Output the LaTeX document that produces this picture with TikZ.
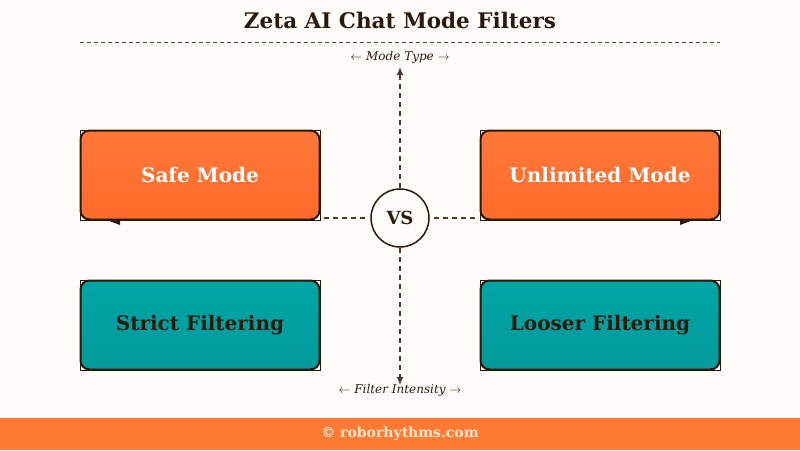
\documentclass[tikz,border=0pt]{standalone}
\usepackage{fontspec}
\setmainfont{DejaVu Serif}
\usetikzlibrary{arrows.meta}
\definecolor{pagebg}{HTML}{FFFCFA}
\definecolor{inkdark}{HTML}{2B1A0C}
\definecolor{modeorange}{HTML}{FF6A2A}
\definecolor{modeorangelt}{HTML}{FF7838}
\definecolor{filterteal}{HTML}{00A6A6}
\definecolor{filtertealdk}{HTML}{03999B}
\definecolor{footorange}{HTML}{FF7A32}
\definecolor{foottext}{HTML}{FFE9D2}
\begin{document}
\begin{tikzpicture}
[
x=1pt, y=-1pt,
Frame/.style={draw=inkdark, line width=0.8pt, minimum width=240pt, minimum height=90pt},
ModeBox/.style={rectangle, rounded corners=9pt, draw=inkdark, line width=2pt, top color=modeorangelt, bottom color=modeorange, minimum width=239pt, minimum height=89pt, text=white, font=\fontsize{20}{24}\selectfont\bfseries},
FilterBox/.style={rectangle, rounded corners=9pt, draw=inkdark, line width=2pt, top color=filterteal, bottom color=filtertealdk, minimum width=239pt, minimum height=89pt, text=inkdark, font=\fontsize{20}{24}\selectfont\bfseries},
VsCircle/.style={circle, draw=inkdark, line width=1.5pt, fill=pagebg, minimum size=58pt, inner sep=0pt, text=inkdark, font=\fontsize{18}{21}\selectfont\bfseries},
AxisLabel/.style={text=inkdark, font=\fontsize{12}{14}\selectfont\itshape},
DashAxis/.style={draw=inkdark!85, line width=1.5pt, dash pattern=on 5pt off 4pt},
Tail/.style={fill=inkdark, draw=none},
]

% page and footer
\fill[pagebg] (0,0) rectangle (800,450);
\fill[footorange] (0,418) rectangle (800,450);
\node[text=foottext, font=\fontsize{14}{16}\selectfont\bfseries] (footer) at (400,434) {© roborhythms.com};

% title
\node[text=inkdark, font=\fontsize{21.5}{25}\selectfont\bfseries] (title) at (400,20) {Zeta AI Chat Mode Filters};
\draw[draw=inkdark!80, line width=1pt, dash pattern=on 4pt off 3pt] (80,42) -- (720,42);

% boxes
\node[Frame] at (200,175) {};
\node[Frame] at (600,175) {};
\node[Frame] at (200,325) {};
\node[Frame] at (600,325) {};
\fill[Tail] (104,219) -- (120,219) -- (120,225) -- cycle;
\fill[Tail] (680,219) -- (696,219) -- (680,225) -- cycle;
\node[ModeBox] (safe) at (200,175) {Safe Mode};
\node[ModeBox] (unlim) at (600,175) {Unlimited Mode};
\node[FilterBox] (strict) at (200,325) {Strict Filtering};
\node[FilterBox] (loose) at (600,325) {Looser Filtering};

% axes
\node[VsCircle] (vs) at (400,218) {VS};
\coordinate (top) at (400,67);
\coordinate (bottom) at (400,385);
\coordinate (left) at ([xshift=3pt]safe.south east |- vs.west);
\coordinate (right) at ([xshift=-3pt]unlim.south west |- vs.east);
\draw[DashAxis, -{Latex[length=8pt,width=7pt]}] (vs.north) -- (top);
\draw[DashAxis, -{Latex[length=8pt,width=7pt]}] (vs.south) -- (bottom);
\draw[DashAxis] (left) -- ([xshift=-4pt]vs.west);
\draw[DashAxis] ([xshift=4pt]vs.east) -- (right);

\node[AxisLabel] (modetype) at (400,57) {$\leftarrow$ Mode Type $\rightarrow$};
\node[AxisLabel] (intensity) at (400,390) {$\leftarrow$ Filter Intensity $\rightarrow$};

\end{tikzpicture}
\end{document}
